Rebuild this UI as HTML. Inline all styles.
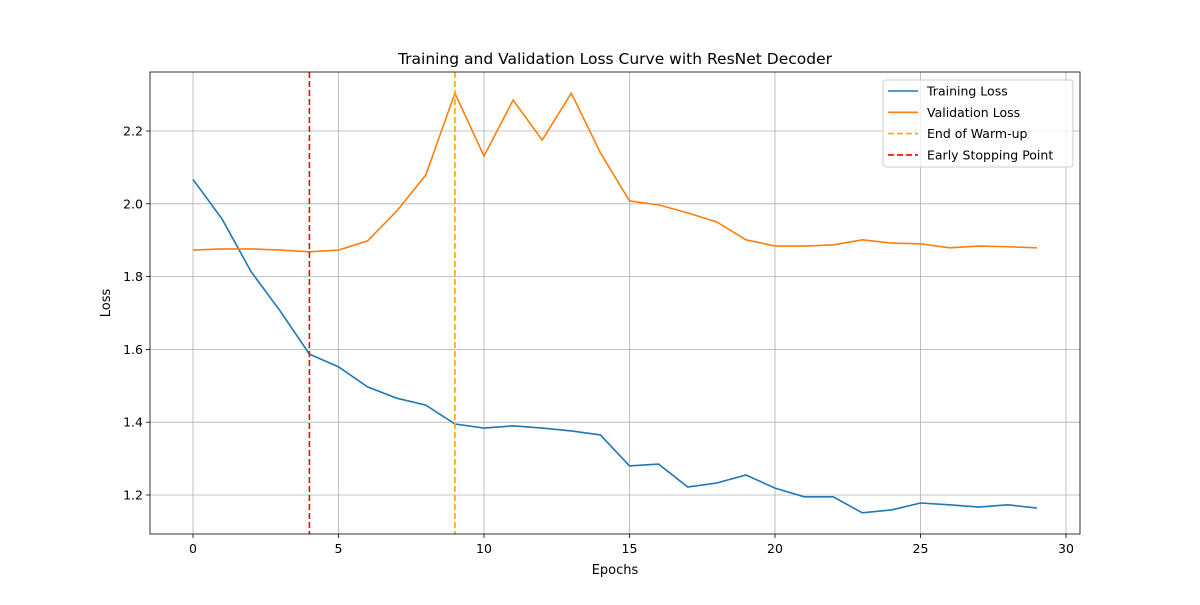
<!DOCTYPE html>
<html><head><meta charset="utf-8"><style>
body{margin:0;background:#fff;font-family:"Liberation Sans","DejaVu Sans",sans-serif}
</style></head><body>
<svg id="chart" width="1200" height="600" xmlns="http://www.w3.org/2000/svg" font-family="DejaVu Sans, Liberation Sans, sans-serif"></svg>
<script>
const epochs=[0,1,2,3,4,5,6,7,8,9,10,11,12,13,14,15,16,17,18,19,20,21,22,23,24,25,26,27,28,29];
const trainLoss=[2.067,1.958,1.813,1.705,1.587,1.552,1.497,1.466,1.447,1.395,1.384,1.390,1.384,1.376,1.365,1.280,1.285,1.222,1.233,1.255,1.219,1.195,1.195,1.151,1.159,1.178,1.173,1.167,1.173,1.164];
const valLoss=[1.873,1.876,1.876,1.873,1.868,1.873,1.898,1.980,2.079,2.304,2.131,2.285,2.175,2.304,2.140,2.008,1.997,1.975,1.950,1.901,1.884,1.884,1.887,1.901,1.892,1.890,1.879,1.884,1.882,1.879];
const xTicks=[0,5,10,15,20,25,30];
const yTicks=[1.2,1.4,1.6,1.8,2.0,2.2];
const warmupEpoch=9;
const earlyStopEpoch=4;
const NS="http://www.w3.org/2000/svg";
const svg=document.getElementById('chart');
const L=150,R=1080,T=72,B=534;
const X=v=>193+v*29.1;
const Y=v=>495-(v-1.2)*364;
function mk(tag,attrs,parent){const e=document.createElementNS(NS,tag);for(const k in attrs)e.setAttribute(k,attrs[k]);(parent||svg).appendChild(e);return e;}
// grid
xTicks.forEach(t=>{
  const g=mk('line',{x1:X(t),x2:X(t),y1:T,y2:B,stroke:'#b0b0b0','stroke-width':0.8});
  
  
  mk('line',{x1:X(t),x2:X(t),y1:B,y2:B+4,stroke:'#000','stroke-width':0.8});
  const tx=mk('text',{x:X(t),y:B+19,'text-anchor':'middle','font-size':12.5});
  tx.textContent=t;
  
  
});
yTicks.forEach(t=>{
  const g=mk('line',{x1:L,x2:R,y1:Y(t),y2:Y(t),stroke:'#b0b0b0','stroke-width':0.8});
  
  
  mk('line',{x1:L-4,x2:L,y1:Y(t),y2:Y(t),stroke:'#000','stroke-width':0.8});
  const tx=mk('text',{x:L-7,y:Y(t)+4.5,'text-anchor':'end','font-size':12.5});
  tx.textContent=t.toFixed(1);
  
  
});
function series(vals,color,name){
  const p=mk('polyline',{points:vals.map((v,i)=>X(epochs[i])+','+Y(v)).join(' '),fill:'none',stroke:color,'stroke-width':1.6});
  
  
}
series(trainLoss,'#1f77b4','training-loss-line');
series(valLoss,'#ff7f0e','validation-loss-line');
const w=mk('line',{x1:X(warmupEpoch),x2:X(warmupEpoch),y1:T,y2:B,stroke:'orange','stroke-width':1.6,'stroke-dasharray':'6 3'});


const es=mk('line',{x1:X(earlyStopEpoch),x2:X(earlyStopEpoch),y1:T,y2:B,stroke:'red','stroke-width':1.6,'stroke-dasharray':'6 3'});


const fr=mk('rect',{x:L,y:T,width:R-L,height:B-T,fill:'none',stroke:'#000','stroke-width':0.8});


function txt(s,a,name){const e=mk('text',a);e.textContent=s;return e;}
txt('Training and Validation Loss Curve with ResNet Decoder',{x:615,y:64,'text-anchor':'middle','font-size':15.5},'chart-title');
txt('Epochs',{x:615,y:574,'text-anchor':'middle','font-size':13},'x-axis-title');
txt('Loss',{x:0,y:0,'text-anchor':'middle','font-size':13,transform:'translate(110,303) rotate(-90)'},'y-axis-title');
// legend
const lg=mk('g',{});


mk('rect',{x:883,y:80,width:190,height:87,rx:3,fill:'#fff','fill-opacity':0.8,stroke:'#ccc'},lg);
const items=[['Training Loss','#1f77b4',''],['Validation Loss','#ff7f0e',''],['End of Warm-up','orange','6 3'],['Early Stopping Point','red','6 3']];
items.forEach((it,i)=>{
  const y=91+i*21.3;
  mk('line',{x1:888,x2:918,y1:y,y2:y,stroke:it[1],'stroke-width':1.6,'stroke-dasharray':it[2]||'none'},lg);
  const t=mk('text',{x:927,y:y+4.5,'font-size':12.5},lg);
  t.textContent=it[0];
  
  
});
</script>
</body></html>
